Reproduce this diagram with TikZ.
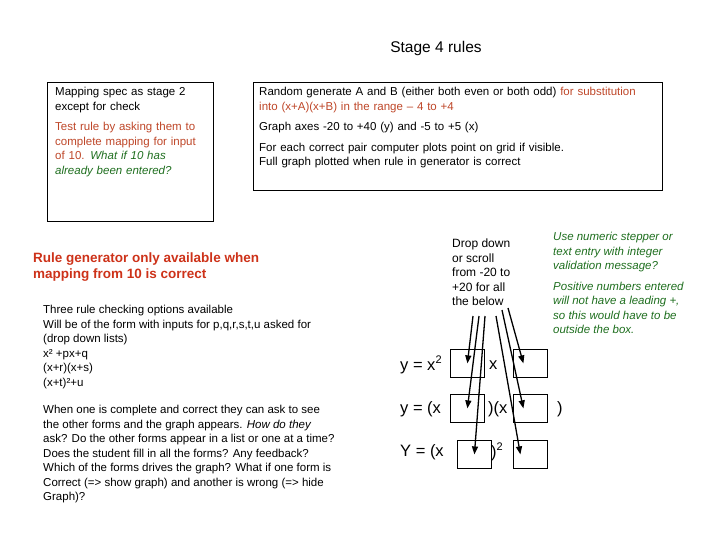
\documentclass[tikz,border=0pt]{standalone}
\usepackage{fontspec}
\setmainfont{Liberation Sans}
\usetikzlibrary{arrows.meta}
\definecolor{ored}{RGB}{190,70,40}
\definecolor{dgreen}{RGB}{30,110,30}
\definecolor{hred}{RGB}{205,50,25}
\newcommand{\mysup}[1]{\raisebox{0.8ex}{\fontsize{11}{12}\selectfont #1}}
\begin{document}
\begin{tikzpicture}[x=1pt,y=-1pt,
  txt/.style={anchor=north west,inner sep=0pt,align=left,font=\fontsize{11.5}{14.5}\selectfont},
  frame/.style={draw,line width=0.8pt},
  ebox/.style={draw,line width=0.8pt,minimum width=34pt,minimum height=28pt,inner sep=0pt},
  eq/.style={anchor=west,inner sep=0pt,font=\fontsize{16.5}{18}\selectfont},
  arr/.style={-{Triangle[length=8pt,width=6pt]},line width=1.3pt}]
\useasboundingbox (0,0) rectangle (720,540);
\node[inner sep=0pt,font=\fontsize{15.5}{17}\selectfont] (title) at (436,48) {Stage 4 rules};
\node[frame,minimum width=166pt,minimum height=139pt,anchor=north west] (lb) at (47,82) {};
\node[frame,minimum width=409pt,minimum height=108pt,anchor=north west] (rb) at (253,82) {};
\node[txt,text width=160pt] (lt) at (55,87) {Mapping spec as stage 2\\except for check\\[6pt]
\textcolor{ored}{Test rule by asking them to\\complete mapping for input\\of 10.} \textcolor{dgreen}{\itshape What if 10 has\\already been entered?}};
\node[txt,text width=400pt] (rt) at (259,87) {Random generate A and B (either both even or both odd) \textcolor{ored}{for substitution\\into (x+A)(x+B) in the range – 4 to +4}\\[6pt]
Graph axes -20 to +40 (y) and -5 to +5 (x)\\[6pt]
For each correct pair computer plots point on grid if visible.\\Full graph plotted when rule in generator is correct};
\node[txt,font=\bfseries\fontsize{13.5}{16}\selectfont,text=hred] (hd) at (33,253) {Rule generator only available when\\mapping from 10 is correct};
\node[txt] (opt) at (43,305) {Three rule checking options available\\Will be of the form with inputs for p,q,r,s,t,u asked for\\(drop down lists)\\x² +px+q\\(x+r)(x+s)\\(x+t)²+u};
\node[txt] (wh) at (43,405) {When one is complete and correct they can ask to see\\the other forms and the graph appears. \itshape How do they\\ask? Do the other forms appear in a list or one at a time?\\Does the student fill in all the forms? Any feedback?\\Which of the forms drives the graph? What if one form is\\Correct (=> show graph) and another is wrong (=> hide\\Graph)?};
\node[txt,font=\fontsize{12}{14.5}\selectfont] (dd) at (452,239) {Drop down\\or scroll\\from -20 to\\+20 for all\\the below};
\node[txt,text=dgreen,font=\itshape\fontsize{11.5}{14.5}\selectfont] (use) at (553,232) {Use numeric stepper or\\text entry with integer\\validation message?\\[6pt]Positive numbers entered\\will not have a leading +,\\so this would have to be\\outside the box.};
% equations
\node[ebox,anchor=north west] (a1) at (450,349) {};
\node[ebox,anchor=north west] (a2) at (513,349) {};
\node[ebox,anchor=north west] (b1) at (450,394) {};
\node[ebox,anchor=north west] (b2) at (513,394) {};
\node[ebox,anchor=north west] (c1) at (457,440) {};
\node[ebox,anchor=north west] (c2) at (513,440) {};
\node[eq] (e1) at (400,365) {y = x\mysup{2}};
\node[eq] (e1b) at (489,365) {x};
\node[eq] (e2) at (400,409) {y = (x};
\node[eq] (e2b) at (488,409) {)(x};
\node[eq] (e2c) at (557,409) {)};
\node[eq] (e3) at (400,452) {Y = (x};
\node[eq] (e3b) at (491,452) {)\mysup{2}};
\coordinate (s1) at (473,316);
\coordinate (s2) at (479,316);
\coordinate (s3) at (485,316);
\coordinate (s4) at (496,316);
\coordinate (s5) at (502,310);
\coordinate (s6) at (508,308);
\draw[arr] (s1) -- (a1.center);
\draw[arr] (s2) -- (b1.center);
\draw[arr] (s3) -- (c1.center);
\draw[arr] (s4) -- ([xshift=-10pt]c2.center);
\draw[arr] (s5) -- ([xshift=-7pt]b2.center);
\draw[arr] (s6) -- ([xshift=-7pt]a2.center);
\end{tikzpicture}
\end{document}
